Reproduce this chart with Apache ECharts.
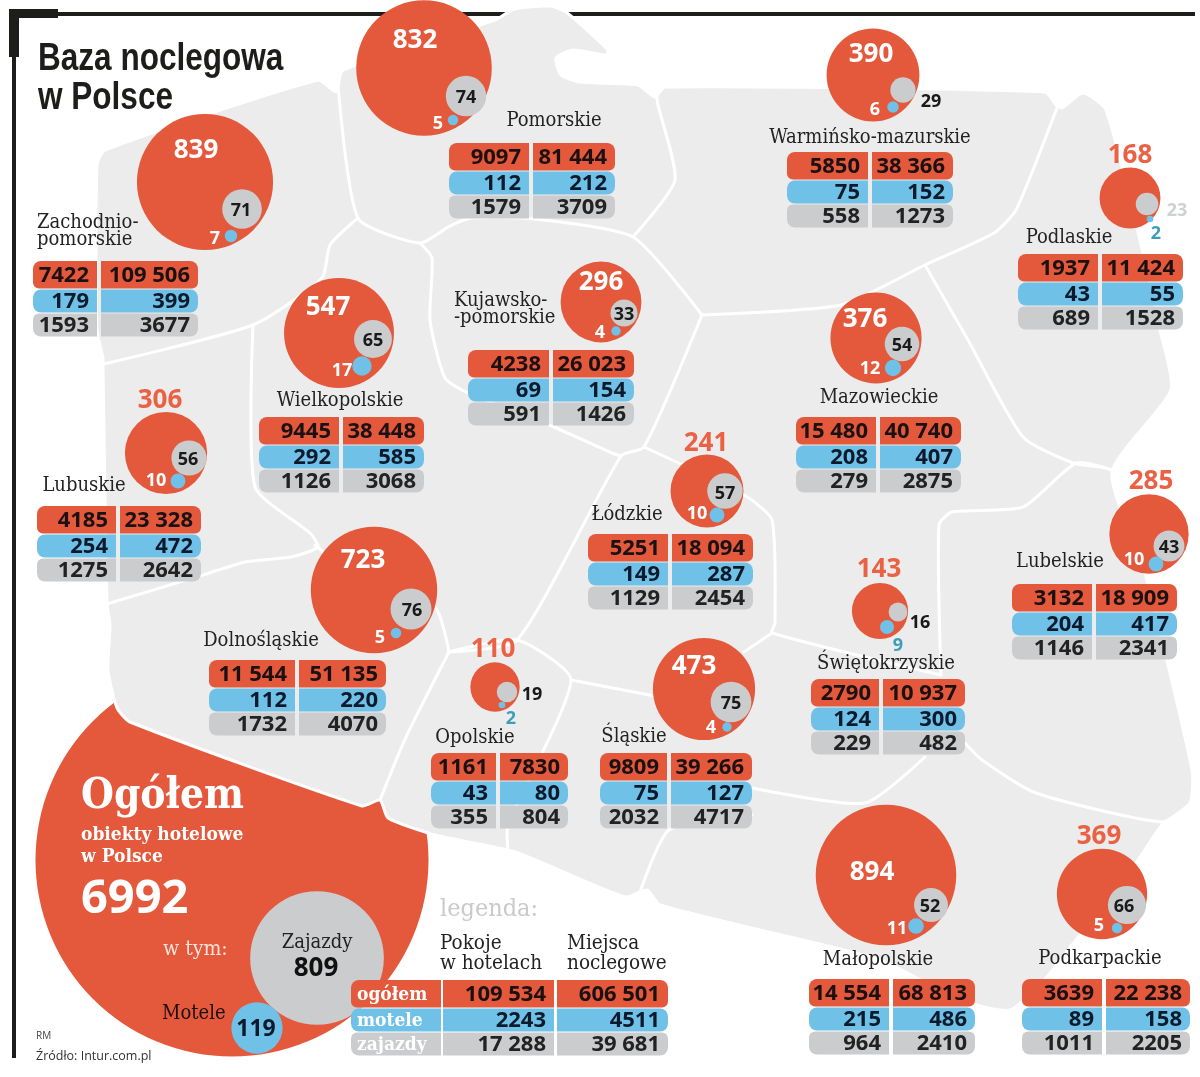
<!DOCTYPE html>
<html>
<head>
<meta charset="UTF-8">
<title>Baza noclegowa w Polsce</title>
<script src="https://cdn.jsdelivr.net/npm/echarts@6/dist/echarts.min.js"></script>
<style>
  html, body { margin:0; padding:0; background:#fff; }
  #main { width:1200px; height:1077px; }
</style>
</head>
<body>
<div id="main"></div>
<script>
// dane
var regionNames = ['Zachodnio-\npomorskie','Pomorskie','Warmińsko-mazurskie','Podlaskie','Kujawsko-\n-pomorskie','Wielkopolskie','Lubuskie','Dolnośląskie','Łódzkie','Mazowieckie','Lubelskie','Świętokrzyskie','Opolskie','Śląskie','Małopolskie','Podkarpackie'];
var hotele  = [839,832,390,168,296,547,306,723,241,376,285,143,110,473,894,369];
var zajazdy = [71,74,29,23,33,65,56,76,57,54,43,16,19,75,52,66];
var motele  = [7,5,6,2,4,17,10,5,10,12,10,9,2,4,11,5];
var pokojeHotele  = [7422,9097,5850,1937,4238,9445,4185,11544,5251,15480,3132,2790,1161,9809,14554,3639];
var pokojeMotele  = [179,112,75,43,69,292,254,112,149,208,204,124,43,75,215,89];
var pokojeZajazdy = [1593,1579,558,689,591,1126,1275,1732,1129,279,1146,229,355,2032,964,1011];
var miejscaHotele  = [109506,81444,38366,11424,26023,38448,23328,51135,18094,40740,18909,10937,7830,39266,68813,22238];
var miejscaMotele  = [399,212,152,55,154,585,472,220,287,407,417,300,80,127,486,158];
var miejscaZajazdy = [3677,3709,1273,1528,1426,3068,2642,4070,2454,2875,2341,482,804,4717,2410,2205];

var ogolemHotele = 6992, ogolemZajazdy = 809, ogolemMotele = 119;
var legendRows = ['ogółem','motele','zajazdy'];
var legendPokoje = [109534,2243,17288];
var legendMiejsca = [606501,4511,39681];

// uklad
var bubblePos = [[205,182],[424,68],[873,75],[1130,198],[601,302],[339,333],[166,453],[374,590],[707,491],[876,338],[1149,534],[880,611],[495,687],[704,689],[886,875],[1102,894]];
var greyPos   = [[242,209],[466,96],[903,90],[1147,204],[624,313],[373,339],[189,458],[411,609],[725,491],[902,344],[1169,546],[898,612],[507,692],[731,702],[931,905],[1127,905]];
var bluePos   = [[231,236],[453,120],[893,107],[1150,219],[616,331],[362,366],[178,481],[396,633],[717,515],[893,368],[1156,564],[887,627],[502,705],[727,727],[916,926],[1117,928]];
var hotelText = [[196,149],[415,39],[871,53],[1130,154],[601,281],[328,306],[160,399],[363,559],[706,442],[865,318],[1151,480],[879,568],[493,648],[694,665],[872,871],[1099,835]];
var greyText  = [[241,209],[466,96],[931,100],[1177,209],[624,313],[373,339],[188,458],[412,609],[725,492],[902,344],[1169,546],[920,621],[532,693],[731,702],[930,905],[1124,905]];
var blueText  = [[215,237],[438,122],[875,108],[1156,232],[600,331],[342,369],[156,479],[380,636],[697,512],[870,367],[1134,558],[898,644],[511,717],[711,726],[897,927],[1099,924]];
var nameText  = [[37,230,'left'],[554,119],[870,136],[1069,236],[454,308,'left'],[340,399],[84,484],[261,639],[627,513],[879,396],[1060,560],[886,662],[475,736],[634,735],[878,958],[1100,957]];
// x lewa, podzial, x prawa, y gora
var tablePos = [[33,99,198,261],[449,531,615,143],[787,870,953,152],[1018,1100,1183,254],[468,551,634,350],[259,341,424,417],[37,118,201,506],[209,297,386,660],[588,670,753,534],[796,878,961,417],[1012,1094,1177,584],[811,881,965,679],[431,498,568,753],[600,669,752,753],[809,891,975,979],[1022,1104,1190,979]];

// obrys kraju i granice wojewodztw (tlo, nie dane)
var countryOutline = [[97,165],[105,150],[318,80],[336,92],[343,70],[495,20],[514,9],[550,6],[566,12],[608,50],[606,55],[573,50],[556,58],[561,75],[580,82],[638,85],[655,97],[665,87],[1045,92],[1056,105],[1062,108],[1083,93],[1106,110],[1143,253],[1160,330],[1171,390],[1112,472],[1145,573],[1192,770],[1190,803],[1162,825],[1136,863],[1072,945],[1046,978],[1010,1010],[960,1000],[892,965],[856,953],[660,905],[647,890],[625,897],[515,852],[435,835],[388,818],[380,800],[362,806],[130,722],[117,708],[108,670],[110,625],[107,603],[103,368],[103,358],[97,330]];
var borderLines = [
  [[95,366],[253,325],[322,278],[330,245],[358,218]],
  [[338,85],[358,218],[420,243],[450,226],[472,218],[535,219],[633,237],[702,315]],
  [[420,243],[432,258],[430,320],[445,378],[468,393],[554,427],[612,453],[621,456]],
  [[633,237],[675,180],[657,100],[660,85]],
  [[702,315],[841,305],[925,265],[994,233],[1016,210],[1058,105]],
  [[702,315],[644,447],[621,456],[517,640],[449,652]],
  [[644,447],[744,495],[772,520],[775,623],[772,633],[941,675]],
  [[941,675],[939,525],[952,512],[1023,507],[1076,463],[1112,470]],
  [[925,265],[968,340],[1023,437],[1073,463],[1103,467]],
  [[253,325],[255,487],[310,533],[318,547],[291,557],[245,562],[203,575],[100,606]],
  [[315,545],[374,590],[435,607],[449,652]],
  [[449,652],[406,737],[380,800]],
  [[449,652],[517,640],[571,680],[508,825],[508,852]],
  [[571,680],[660,697]],
  [[744,652],[772,633]],
  [[752,788],[865,803],[925,757]],
  [[752,815],[669,830],[640,892]],
  [[965,743],[982,760],[1036,793],[1162,822],[1192,803]]
];

var RED = '#e4593c', BLUE = '#6fc1e8', GREY = '#cbcccd', LAND = '#ececec', ORANGE = '#ea6144', TEAL = '#3f9db8';
var SANS = '"Open Sans","Noto Sans",sans-serif';
var SLAB = '"DejaVu Serif Condensed","DejaVu Serif",serif';

// promien proporcjonalny do pierwiastka z wartosci
function bubbleSize(v) { return 2 * 2.35 * Math.sqrt(v); }
function fmt(v) {
  var s = String(v);
  return v >= 10000 ? s.slice(0, -3) + ' ' + s.slice(-3) : s;
}

// teksty
var texts = [];
function addText(x, y, text, font, fill, align, scaleX) {
  texts.push({x:x, y:y, text:text, font:font, fill:fill, align:align || 'center', scaleX:scaleX || 1});
}
function numFont(size) { return 'bold ' + size + 'px ' + SANS; }

regionNames.forEach(function(name, i) {
  var outside = hotelText[i][1] < bubblePos[i][1] - bubbleSize(hotele[i]) / 2;
  addText(hotelText[i][0], hotelText[i][1], String(hotele[i]), numFont(26), outside ? ORANGE : '#fff');
  addText(greyText[i][0], greyText[i][1], String(zajazdy[i]), numFont(18), name === 'Podlaskie' ? '#cfd0d1' : '#1a1a1a');
  var bOut = blueText[i][1] > bubblePos[i][1] + bubbleSize(hotele[i]) / 2;
  addText(blueText[i][0], blueText[i][1], String(motele[i]), numFont(18), bOut ? TEAL : '#fff');
  var n = nameText[i], lines = name.split('\n');
  if (lines.length > 1) {
    addText(n[0], n[1] - 9, lines[0], '20px ' + SLAB, '#222', 'left');
    addText(n[0], n[1] + 8, lines[1], '20px ' + SLAB, '#222', 'left');
  } else {
    addText(n[0], n[1], name, '20px ' + SLAB, '#222', n[2] || 'center');
  }
});

var TITLE_FONT = 'bold 38px "Liberation Sans Narrow","Liberation Sans",sans-serif';
addText(38, 58, 'Baza noclegowa', TITLE_FONT, '#1d1d1b', 'left', 0.83);
addText(38, 97, 'w Polsce', TITLE_FONT, '#1d1d1b', 'left', 0.83);
addText(81, 796, 'Ogółem', 'bold 42px ' + SLAB, '#fff', 'left');
addText(81, 834, 'obiekty hotelowe', 'bold 19px ' + SLAB, '#fff', 'left');
addText(81, 856, 'w Polsce', 'bold 19px ' + SLAB, '#fff', 'left');
addText(81, 898, String(ogolemHotele), numFont(47), '#fff', 'left');
addText(163, 948, 'w tym:', '21px ' + SLAB, '#fbe3dc', 'left');
addText(317, 941, 'Zajazdy', '20px ' + SLAB, '#222');
addText(316, 967, String(ogolemZajazdy), numFont(26), '#111');
addText(162, 1012, 'Motele', '20px ' + SLAB, '#1a0f0c', 'left');
addText(256, 1028, String(ogolemMotele), numFont(23), '#0d1a2c');
addText(36, 1035, 'RM', '10px ' + SANS, '#444', 'left');
addText(36, 1055, 'Źródło: Intur.com.pl', '12.5px ' + SANS, '#333', 'left');
addText(440, 908, 'legenda:', '25px ' + SLAB, '#c9cacb', 'left');
addText(440, 942, 'Pokoje', '20.5px ' + SLAB, '#222', 'left');
addText(440, 962, 'w hotelach', '20.5px ' + SLAB, '#222', 'left');
addText(567, 942, 'Miejsca', '20.5px ' + SLAB, '#222', 'left');
addText(567, 962, 'noclegowe', '20.5px ' + SLAB, '#222', 'left');

// komorki tabel
var ROW_TOP = [0, 28.5, 52.5], ROW_H = [27.5, 23, 23];
var ROW_FILL = [RED, BLUE, GREY], ROW_INK = ['#1b1112', '#0d1a2c', '#222'];
var cells = [];
function addCell(x0, x1, y0, row, side, text, font, fill, align) {
  var r = side === 'left' ? (row === 0 ? [8,0,0,6] : row === 1 ? [8,0,0,8] : [6,0,0,8])
        : side === 'right' ? (row === 0 ? [0,8,6,0] : row === 1 ? [0,8,8,0] : [0,6,8,0])
        : 0;
  cells.push({x0:x0, x1:x1, y:y0 + ROW_TOP[row], h:ROW_H[row], fillColor:ROW_FILL[row], r:r,
    text:text, font:font, ink:fill || ROW_INK[row], align:align || 'right'});
}
tablePos.forEach(function(t, i) {
  var left = [pokojeHotele[i], pokojeMotele[i], pokojeZajazdy[i]];
  var right = [miejscaHotele[i], miejscaMotele[i], miejscaZajazdy[i]];
  for (var row = 0; row < 3; row++) {
    addCell(t[0], t[1] - 2, t[3], row, 'left', fmt(left[row]), numFont(22));
    addCell(t[1] + 2, t[2], t[3], row, 'right', fmt(right[row]), numFont(22));
  }
});
legendRows.forEach(function(label, row) {
  addCell(351, 441, 980, row, 'left', label, 'bold 19px ' + SLAB, '#fff', 'left');
  addCell(443, 554, 980, row, 'mid', fmt(legendPokoje[row]), numFont(22));
  addCell(557, 668, 980, row, 'right', fmt(legendMiejsca[row]), numFont(22));
});

function scatter(data, color, z) {
  return {
    type:'scatter', data:data, z:z, silent:true, animation:false,
    symbolSize:function(v) { return bubbleSize(v[2]); },
    itemStyle:{color:color, opacity:1}
  };
}
function marks(pos, vals) {
  return pos.map(function(p, i) { return [p[0], p[1], vals[i]]; });
}

var option = {
  animation:false,
  grid:{left:0, right:0, top:0, bottom:0},
  xAxis:{type:'value', min:0, max:1200, show:false},
  yAxis:{type:'value', min:0, max:1077, inverse:true, show:false},
  tooltip:{show:false},
  graphic:[
    {type:'rect', z:0, shape:{x:12, y:12, width:1183, height:4}, style:{fill:'#1d1d1b'}},
    {type:'rect', z:0, shape:{x:12, y:12, width:4, height:1046}, style:{fill:'#1d1d1b'}},
    {type:'rect', z:0, shape:{x:9, y:9, width:49, height:9}, style:{fill:'#1d1d1b'}},
    {type:'rect', z:0, shape:{x:9, y:9, width:10, height:48}, style:{fill:'#1d1d1b'}}
  ],
  series:[
    scatter([[232,860,ogolemHotele]], RED, 0),
    {
      type:'custom', z:1, silent:true, animation:false, clip:false,
      data:[[0,0]],
      renderItem:function(params, api) {
        var kids = [{type:'polygon', shape:{points:countryOutline.map(function(p) { return api.coord(p); }), smooth:0.2},
          style:{fill:LAND, stroke:'#fff', lineWidth:3, lineJoin:'round'}}];
        borderLines.forEach(function(line) {
          kids.push({type:'polyline', shape:{points:line.map(function(p) { return api.coord(p); }), smooth:0.2},
            style:{fill:null, stroke:'#fff', lineWidth:3, lineCap:'round', lineJoin:'round'}});
        });
        return {type:'group', children:kids};
      }
    },
    scatter([[317,958,ogolemZajazdy]], GREY, 2),
    scatter([[257,1028,ogolemMotele]], BLUE, 3),
    scatter(marks(bubblePos, hotele), RED, 3),
    scatter(marks(greyPos, zajazdy), GREY, 4),
    scatter(marks(bluePos, motele), BLUE, 4),
    {
      type:'custom', z:5, silent:true, animation:false, clip:false,
      data:cells.map(function(c, i) { return [c.x0, c.y, i]; }),
      renderItem:function(params, api) {
        var c = cells[api.value(2)];
        var a = api.coord([c.x0, c.y]), b = api.coord([c.x1, c.y + c.h]);
        var tx = c.align === 'left' ? a[0] + 6 : b[0] - 8;
        return {type:'group', children:[
          {type:'rect', shape:{x:a[0], y:a[1], width:b[0]-a[0], height:b[1]-a[1], r:c.r}, style:{fill:c.fillColor}},
          {type:'text', x:tx, y:(a[1]+b[1])/2 + 1, style:{text:c.text, font:c.font, fill:c.ink, align:c.align, verticalAlign:'middle'}}
        ]};
      }
    },
    {
      type:'custom', z:6, silent:true, animation:false, clip:false,
      data:texts.map(function(t, i) { return [t.x, t.y, i]; }),
      renderItem:function(params, api) {
        var t = texts[api.value(2)];
        var p = api.coord([t.x, t.y]);
        return {type:'text', x:p[0], y:p[1] + 1.5, scaleX:t.scaleX,
          style:{text:t.text, font:t.font, fill:t.fill, align:t.align, verticalAlign:'middle'}};
      }
    }
  ]
};

var chart = echarts.init(document.getElementById('main'));
chart.setOption(option);
</script>
</body>
</html>
